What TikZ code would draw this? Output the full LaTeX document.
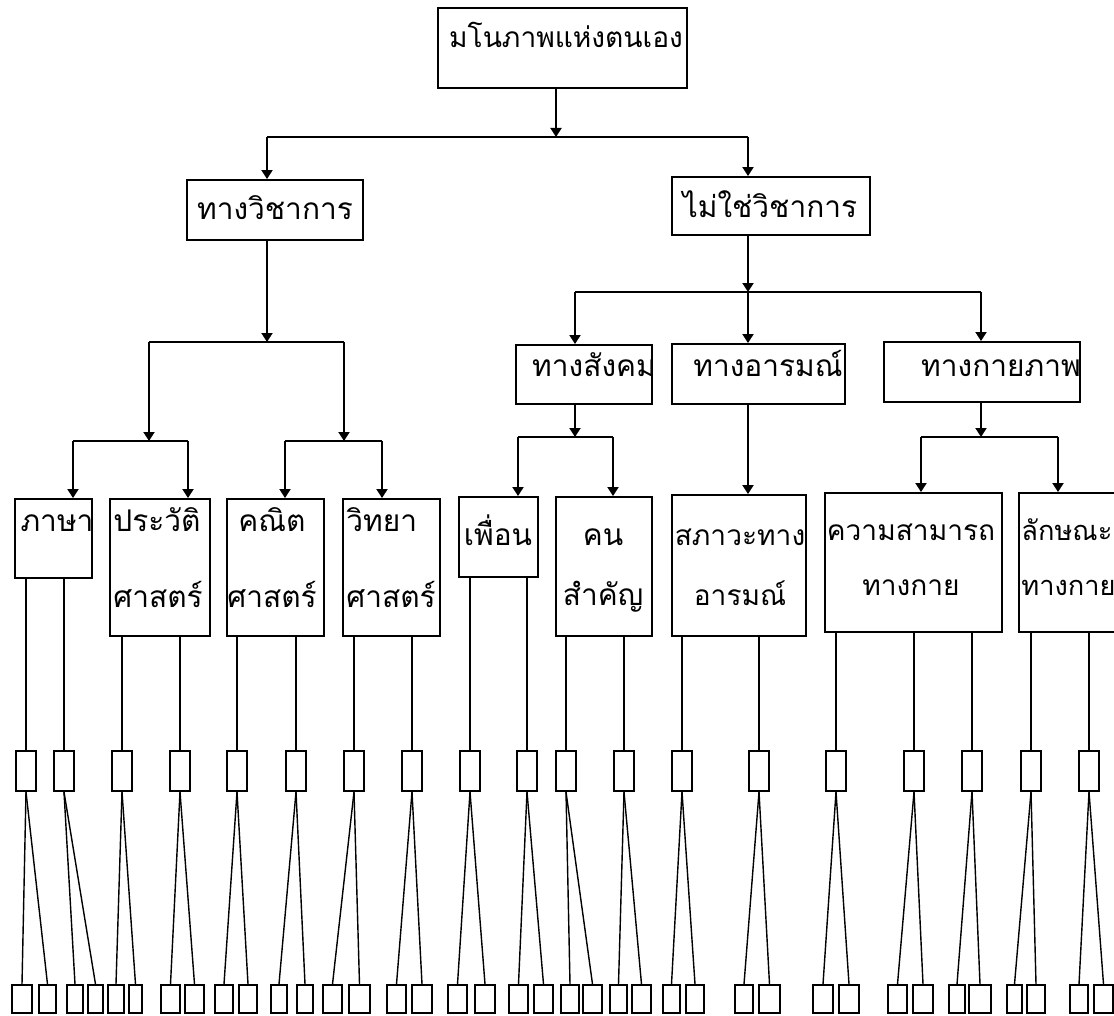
\documentclass[tikz,border=0pt]{standalone}
\usepackage{fontspec}
\newfontfamily\thaifont[Script=Thai]{Loma}
\usetikzlibrary{arrows.meta, fit, positioning}
\tikzset{>={Triangle[width=2.2mm,length=1.8mm]}}

\begin{document}
\begin{tikzpicture}[
    x = 0.02cm, y = -0.02cm,
    box/.style = {draw, line width=1.1pt, inner sep=0pt},
    txt/.style = {font=\thaifont\fontsize{17}{31}\selectfont, inner sep=0pt},
    small/.style = {font=\thaifont\fontsize{16}{31}\selectfont},
    conn/.style = {line width=1.1pt},
    mid/.style = {draw, line width=1.1pt, inner sep=0pt,
        minimum width=0.4cm, minimum height=0.8cm},
    leaf/.style = {draw, line width=1pt, inner sep=0pt, minimum height=0.56cm},
    fan/.style = {line width=0.8pt}
  ]
  \useasboundingbox (0,0) rectangle (1114,1016);
  \clip (0,0) rectangle (1114,1016);

  % top and first level
  \node[box, fit={(438,8) (687,88)}] (self) {};
  \node[txt, small, anchor=base] (selfT) at (566,48) {มโนภาพแห่งตนเอง};
  \node[box, fit={(187,180) (363,240)}] (acad) {};
  \node[txt, anchor=base] (acadT) at (275,220) {ทางวิชาการ};
  \node[box, fit={(672,177) (870,235)}] (nonacad) {};
  \node[txt, anchor=base] (nonacadT) at (770,218) {ไม่ใช่วิชาการ};

  \coordinate (j0) at (556,137);
  \coordinate (j0L) at (267,137);
  \coordinate (j0R) at (748,137);
  \draw[conn, ->] (j0 |- self.south) -- (j0);
  \draw[conn] (j0L) -- (j0R);
  \draw[conn, ->] (j0L) -- (j0L |- acad.north);
  \draw[conn, ->] (j0R) -- (j0R |- nonacad.north);

  % second level
  \node[box, fit={(516,345) (652,404)}] (social) {};
  \node[txt, anchor=base] (socialT) at (594,377) {ทางสังคม};
  \node[box, fit={(672,344) (845,404)}] (emot) {};
  \node[txt, anchor=base] (emotT) at (768,377) {ทางอารมณ์};
  \node[box, fit={(884,342) (1080,402)}] (phys) {};
  \node[txt, anchor=base] (physT) at (1001,377) {ทางกายภาพ};

  \coordinate (j1) at (267,342);
  \coordinate (j1L) at (149,342);
  \coordinate (j1R) at (344,342);
  \draw[conn, ->] (j1 |- acad.south) -- (j1);
  \draw[conn] (j1L) -- (j1R);

  \coordinate (j3) at (748,292);
  \coordinate (j3L) at (575,292);
  \coordinate (j3R) at (981,292);
  \draw[conn, ->] (j3 |- nonacad.south) -- (j3);
  \draw[conn] (j3L) -- (j3R);
  \draw[conn, ->] (j3L) -- (j3L |- social.north);
  \draw[conn, ->] (j3) -- (j3 |- emot.north);
  \draw[conn, ->] (j3R) -- (j3R |- phys.north);

  % third level
  \node[box, fit={(15,499) (92,578)}] (lang) {};
  \node[txt, anchor=base] (langT) at (57,531) {ภาษา};
  \node[box, fit={(110,499) (210,636)}] (hist) {};
  \node[txt, anchor=base west, align=left] (histT) at (113,607) {ประวัติ\\[12pt]ศาสตร์};
  \node[box, fit={(227,499) (324,636)}] (math) {};
  \node[txt, anchor=base, align=center] (mathT) at (272,607) {คณิต\\[12pt]ศาสตร์};
  \node[box, fit={(343,499) (440,636)}] (sci) {};
  \node[txt, anchor=base west, align=left] (sciT) at (346,607) {วิทยา\\[12pt]ศาสตร์};
  \node[box, fit={(459,497) (538,577)}] (friend) {};
  \node[txt, anchor=base] (friendT) at (498,545) {เพื่อน};
  \node[box, fit={(556,497) (652,636)}] (signif) {};
  \node[txt, anchor=base, align=center] (signifT) at (603,605) {คน\\[3pt]สำคัญ};
  \node[box, fit={(672,495) (806,636)}] (mood) {};
  \node[txt, small, anchor=base, align=center] (moodT) at (740,605) {สภาวะทาง\\[3pt]อารมณ์};
  \node[box, fit={(825,493) (1002,632)}] (ability) {};
  \node[txt, small, anchor=base, align=center] (abilityT) at (911,595) {ความสามารถ\\ทางกาย};
  \node[box, fit={(1019,493) (1130,632)}] (trait) {};
  \node[txt, font=\thaifont\fontsize{15.5}{31}\selectfont, anchor=base west, align=left]
    (traitT) at (1021,595) {ลักษณะ\\ทางกาย};

  \coordinate (j2a) at (149,441);
  \coordinate (j2aL) at (73,441);
  \coordinate (j2aR) at (188,441);
  \coordinate (j2b) at (344,441);
  \coordinate (j2bL) at (285,441);
  \coordinate (j2bR) at (382,441);
  \draw[conn, ->] (j1L) -- (j2a);
  \draw[conn, ->] (j1R) -- (j2b);
  \draw[conn] (j2aL) -- (j2aR);
  \draw[conn] (j2bL) -- (j2bR);
  \draw[conn, ->] (j2aL) -- (j2aL |- lang.north);
  \draw[conn, ->] (j2aR) -- (j2aR |- hist.north);
  \draw[conn, ->] (j2bL) -- (j2bL |- math.north);
  \draw[conn, ->] (j2bR) -- (j2bR |- sci.north);

  \coordinate (j4) at (575,437);
  \coordinate (j4L) at (518,437);
  \coordinate (j4R) at (613,437);
  \draw[conn, ->] (j4 |- social.south) -- (j4);
  \draw[conn] (j4L) -- (j4R);
  \draw[conn, ->] (j4L) -- (j4L |- friend.north);
  \draw[conn, ->] (j4R) -- (j4R |- signif.north);
  \draw[conn, ->] (j3 |- emot.south) -- (j3 |- mood.north);
  \coordinate (j6) at (981,437);
  \coordinate (j6L) at (921,437);
  \coordinate (j6R) at (1058,437);
  \draw[conn, ->] (j6 |- phys.south) -- (j6);
  \draw[conn] (j6L) -- (j6R);
  \draw[conn, ->] (j6L) -- (j6L |- ability.north);
  \draw[conn, ->] (j6R) -- (j6R |- trait.north);

  % small boxes
  \foreach \x [count=\i] in {26,64,122,180,237,296,354,412,470,527,566,624,682,759,836,914,972,1031,1089}
    \node[mid] (m\i) at (\x,771) {};
  \foreach \x/\w [count=\j] in {22/20, 47.5/17, 75/16, 95.5/15, 116/16, 135.5/13,
      170.5/19, 194.5/19, 224/18, 248/18, 279/16, 305/16, 332.5/19, 359.5/21,
      396.5/19, 422/20, 457.5/19, 485/20, 518.5/19, 543.5/19, 570/18, 592.5/19,
      618.5/17, 641.5/19, 671.5/17, 695/18, 744/18, 769.5/21, 823/20, 849/20,
      897.5/19, 923/20, 957/16, 980/22, 1014.5/15, 1036/18, 1079/18, 1103.5/19}
    \node[leaf, minimum width=\w*0.02cm] (b\j) at (\x,999) {};

  \foreach \p/\i in {lang/1, lang/2, hist/3, hist/4, math/5, math/6, sci/7, sci/8,
      friend/9, friend/10, signif/11, signif/12, mood/13, mood/14,
      ability/15, ability/16, ability/17, trait/18, trait/19}
    \draw[fan] (m\i.north |- \p.south) -- (m\i.north);

  \foreach \i in {1,...,19} {
    \pgfmathtruncatemacro{\a}{2*\i-1}
    \pgfmathtruncatemacro{\b}{2*\i}
    \draw[fan] (m\i.south) -- (b\a.north);
    \draw[fan] (m\i.south) -- (b\b.north);
  }
\end{tikzpicture}
\end{document}
